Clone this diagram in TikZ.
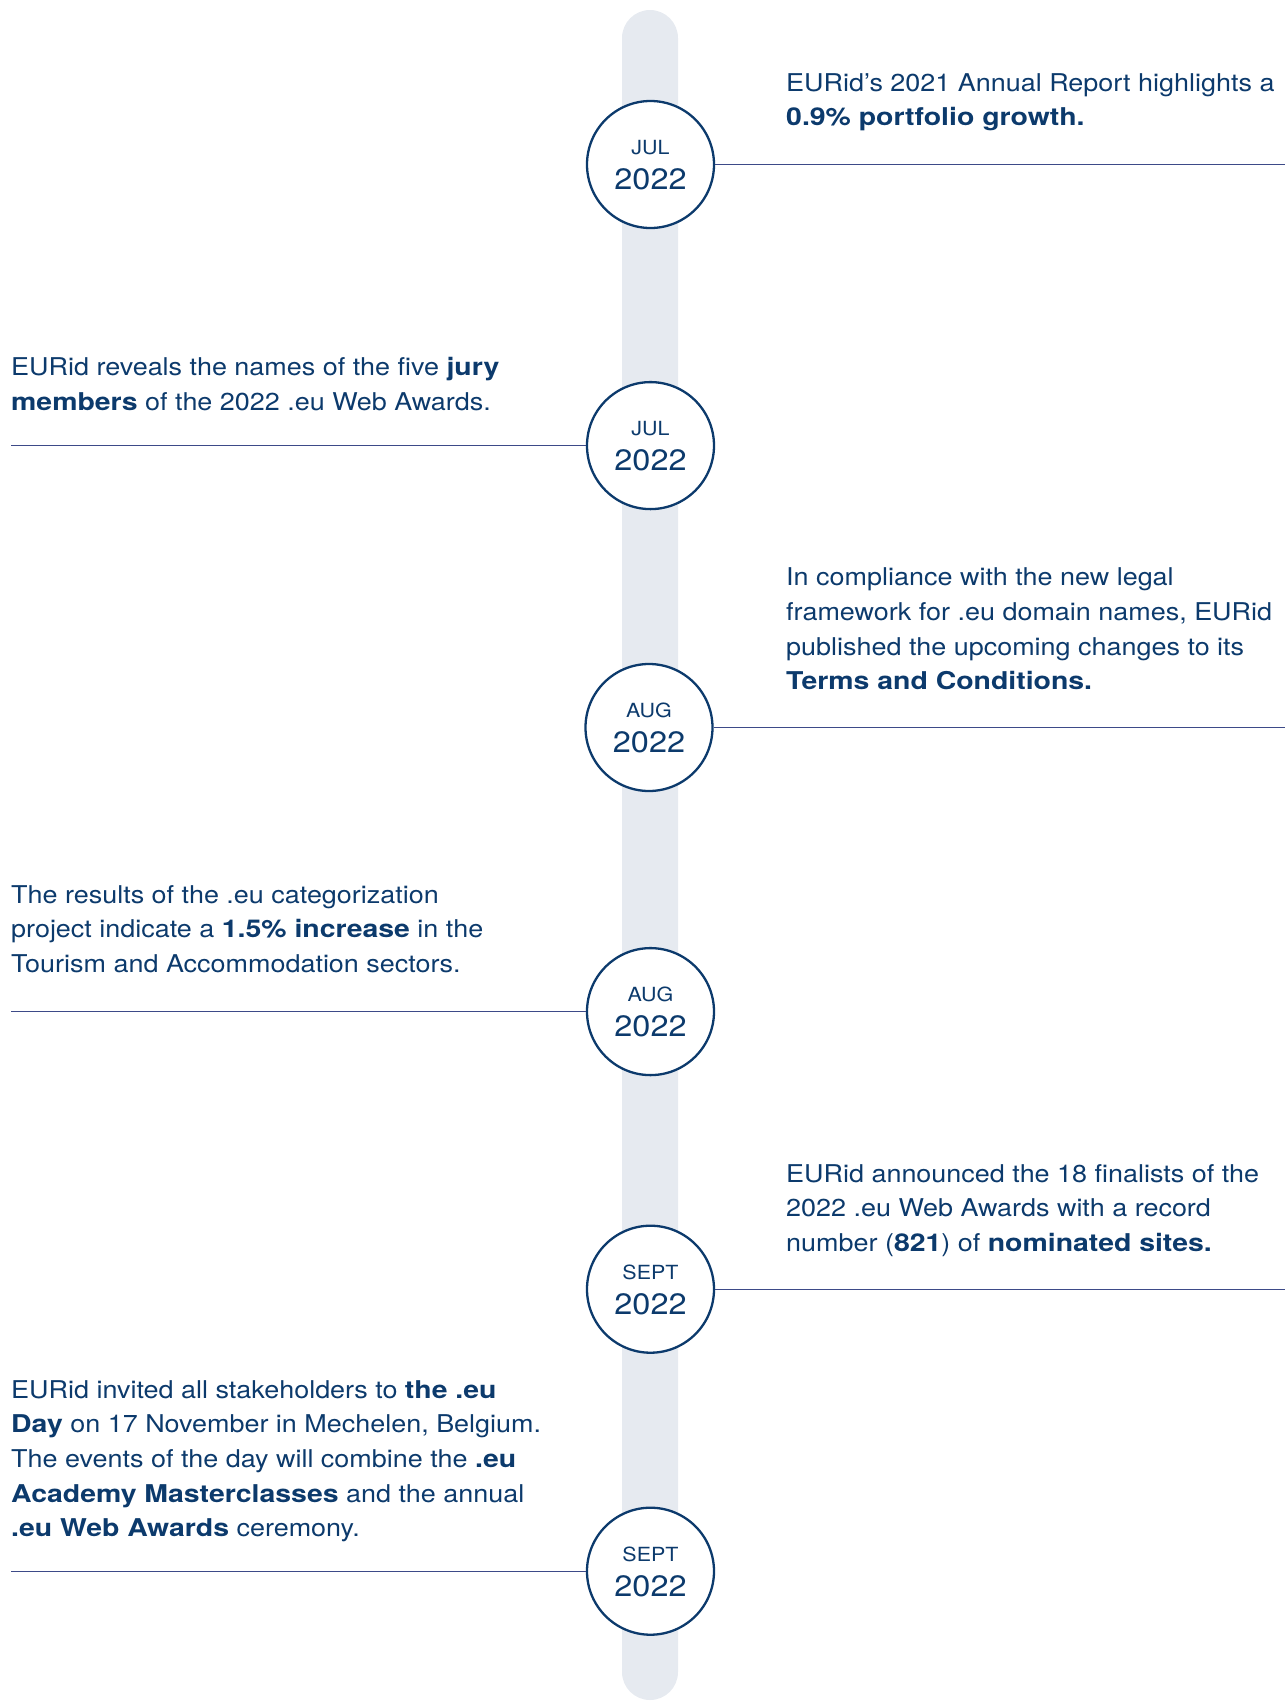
\documentclass[tikz,border=0pt]{standalone}
\usepackage{fontspec}
\setmainfont{TeX Gyre Heros}[FakeStretch=1.1,BoldFeatures={FakeStretch=1.16}]
\definecolor{eunavy}{HTML}{0C3A6C}
\definecolor{eurule}{HTML}{3D4A88}
\definecolor{eutrack}{HTML}{E6EAF0}

\tikzset{
  datecirc/.style={circle,draw=eunavy,line width=2.3pt,fill=white,minimum size=127pt,inner sep=0pt,
    align=center,text=eunavy,font=\fontsize{29.5}{35}\selectfont},
  evtext/.style={anchor=north west,inner sep=0pt,align=left,text=eunavy,
    font=\fontsize{24.5}{34.7}\selectfont},
  rule/.style={draw=eurule,line width=1.3pt}
}
\newcommand{\mon}[1]{{\fontsize{19.5}{35}\selectfont\rule{0pt}{16pt}#1}}

\begin{document}
\begin{tikzpicture}[x=1pt,y=-1pt]
        \useasboundingbox (0,0) rectangle (1285,1701);
        \fill[eutrack,rounded corners=28pt](622,10) rectangle (678,1700);

        \node[datecirc] (d1) at (650.5,164.5) {\mon{JUL}\\2022};
        \node[datecirc] (d2) at (650.5,445.6) {\mon{JUL}\\2022};
        \node[datecirc] (d3) at (649,727.5) {\mon{AUG}\\2022};
        \node[datecirc] (d4) at (650.5,1011.6) {\mon{AUG}\\2022};
        \node[datecirc] (d5) at (650.5,1289.2) {\mon{SEPT}\\2022};
        \node[datecirc] (d6) at (650.5,1571.2) {\mon{SEPT}\\2022};

        \coordinate (e1) at (1285,164.5);
        \coordinate (e2) at (11,445.6);
        \coordinate (e3) at (1285,727.5);
        \coordinate (e4) at (11,1011.6);
        \coordinate (e5) at (1285,1289.2);
        \coordinate (e6) at (11,1571.2);

        \draw[rule](d1.east)--(e1);
        \draw[rule](e2)--(d2.west);
        \draw[rule](d3.east)--(e3);
        \draw[rule](e4)--(d4.west);
        \draw[rule](d5.east)--(e5);
        \draw[rule](e6)--(d6.west);

        \node[evtext] (t1) at (786,73) {EURid’s 2021 Annual Report highlights a\\\textbf{0.9\% portfolio growth.}};
        \node[evtext] (t2) at (11,357) {EURid reveals the names of the five \textbf{jury}\\\textbf{members} of the 2022 .eu Web Awards.};
        \node[evtext] (t3) at (786,567.6) {In compliance with the new legal\\framework for .eu domain names, EURid\\published the upcoming changes to its\\\textbf{Terms and Conditions.}};
        \node[evtext] (t4) at (11,885) {The results of the .eu categorization\\project indicate a \textbf{1.5\% increase} in the\\Tourism and Accommodation sectors.};
        \node[evtext] (t5) at (786,1164) {EURid announced the 18 finalists of the\\2022 .eu Web Awards with a record\\number (\textbf{821}) of \textbf{nominated sites.}};
        \node[evtext] (t6) at (11,1380) {EURid invited all stakeholders to \textbf{the .eu}\\\textbf{Day} on 17 November in Mechelen, Belgium.\\The events of the day will combine the \textbf{.eu}\\\textbf{Academy Masterclasses} and the annual\\\textbf{.eu Web Awards} ceremony.};
    \end{tikzpicture}
\end{document}
